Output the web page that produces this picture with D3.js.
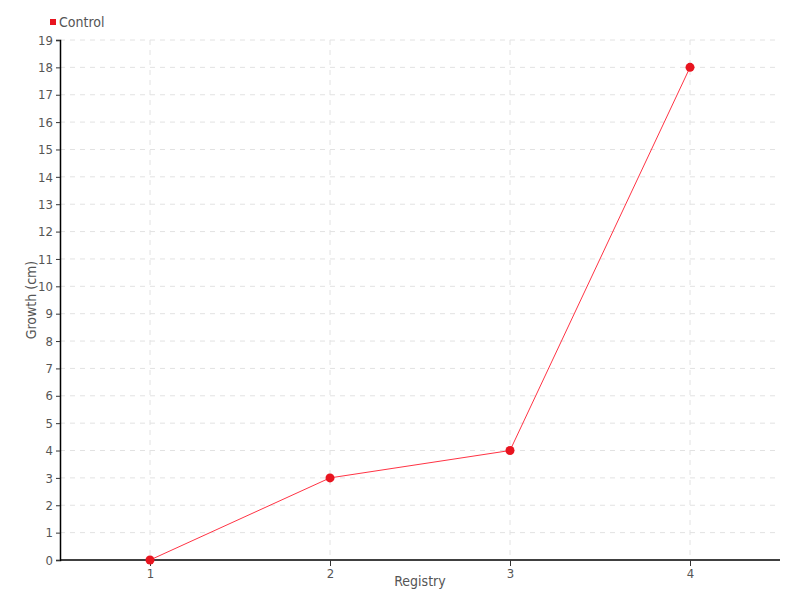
<!DOCTYPE html>
<html>
<head>
<meta charset="utf-8">
<script src="https://cdn.jsdelivr.net/npm/d3@7"></script>
<style>
  body { margin: 0; background: #fff; }
  svg text { font-family: "DejaVu Sans Condensed", "Liberation Sans Narrow", sans-serif; fill: #555; }
</style>
</head>
<body>
<div id="chart"></div>
<script>
// data
const categories = ["1", "2", "3", "4"];
const growth = [0, 3, 4, 18];
const seriesName = "Control";
const yTicks = d3.range(0, 20);

const width = 800, height = 600;
const margin = { top: 40, right: 20, bottom: 40, left: 60 };
const innerW = width - margin.left - margin.right;
const innerH = height - margin.top - margin.bottom;

const svg = d3.select("#chart").append("svg")
    .attr("width", width)
    .attr("height", height);

const x = d3.scalePoint().domain(categories).range([0, innerW]).padding(0.5);
const y = d3.scaleLinear().domain([0, 19]).range([innerH, 0]);

const g = svg.append("g").attr("transform", `translate(${margin.left},${margin.top})`);

// grid
g.append("g").selectAll("line").data(yTicks.slice(1)).enter().append("line")
    .attr("x1", 0).attr("x2", innerW)
    .attr("y1", d => y(d)).attr("y2", d => y(d))
    .attr("stroke", "#e2e2e2").attr("stroke-dasharray", "5,5");
g.append("g").selectAll("line").data(categories).enter().append("line")
    .attr("x1", d => x(d)).attr("x2", d => x(d))
    .attr("y1", 0).attr("y2", innerH)
    .attr("stroke", "#e2e2e2").attr("stroke-dasharray", "5,5");

// axes
const yAxis = g.append("g").call(d3.axisLeft(y).tickValues(yTicks).tickSize(4).tickPadding(3).tickFormat(d3.format("d")));
const xAxis = g.append("g").attr("transform", `translate(0,${innerH})`)
    .call(d3.axisBottom(x).tickSize(6).tickPadding(3));
[xAxis, yAxis].forEach(a => {
    a.select(".domain").attr("stroke", "#000").attr("stroke-width", 1.5);
    a.selectAll(".tick line").attr("stroke", "#333");
    a.selectAll("text").attr("font-size", 13).attr("fill", "#555");
});
xAxis.select(".domain").attr("d", `M0,0H${innerW}`);

// titles
svg.append("text")
    .attr("x", margin.left + innerW / 2).attr("y", 586)
    .attr("text-anchor", "middle").attr("font-size", 14)
    .text("Registry");
svg.append("text")
    .attr("transform", `translate(36,${margin.top + innerH / 2}) rotate(-90)`)
    .attr("text-anchor", "middle").attr("font-size", 14)
    .text("Growth (cm)");

// line
const line = d3.line().x((d, i) => x(categories[i])).y(d => y(d));
g.append("path").datum(growth)
    .attr("fill", "none").attr("stroke", "#ff3344").attr("stroke-width", 1)
    .attr("d", line);
g.append("g").selectAll("circle").data(growth).enter().append("circle")
    .attr("cx", (d, i) => x(categories[i])).attr("cy", d => y(d))
    .attr("r", 4.5).attr("fill", "#e8141f");

// legend
svg.append("rect").attr("x", 50).attr("y", 19).attr("width", 6).attr("height", 6).attr("fill", "#e8141f");
svg.append("text").attr("x", 59).attr("y", 27).attr("font-size", 14).text(seriesName);
</script>
</body>
</html>
